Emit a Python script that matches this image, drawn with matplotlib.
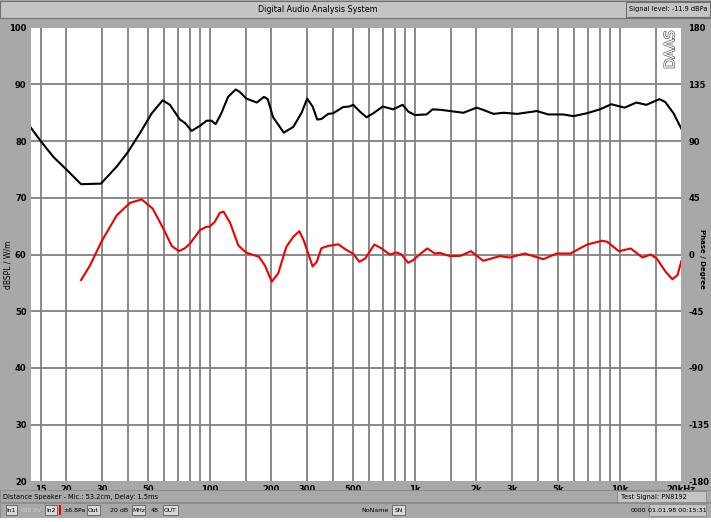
import numpy as np
import matplotlib
matplotlib.use("Agg")
import matplotlib.pyplot as plt
import matplotlib.patheffects as pe
from matplotlib.patches import Rectangle
from matplotlib.ticker import NullLocator

plt.rcParams["axes.unicode_minus"] = False

# magnitude response (dB SPL)
mag_freq = [13.4, 15, 17.3, 20, 23.6, 29.5, 35.2, 40, 45.7, 52.2, 59, 64, 71.6, 75.8,
            81.7, 89.7, 96.7, 102, 107, 114, 123, 134, 140, 151, 170, 184, 192, 204,
            230, 256, 281, 299, 318, 335, 351, 379, 400, 448, 480, 502, 541, 583, 628,
            700, 786, 874, 932, 1003, 1144, 1224, 1355, 1489, 1730, 2007, 2163, 2425,
            2722, 3163, 3946, 4492, 5314, 5946, 6901, 8017, 9116, 10580, 12060, 13500,
            15660, 16700, 18330, 20000]
mag_db = [82.4, 80.0, 77.2, 75.0, 72.4, 72.5, 75.5, 78.1, 81.4, 84.9, 87.2, 86.4, 83.8, 83.2,
          81.8, 82.7, 83.6, 83.6, 83.0, 84.9, 87.8, 89.1, 88.7, 87.5, 86.8, 87.8, 87.4, 84.2,
          81.5, 82.5, 85.0, 87.5, 86.1, 83.8, 83.9, 84.8, 84.9, 86.0, 86.1, 86.4, 85.2, 84.2,
          84.9, 86.1, 85.6, 86.4, 85.2, 84.6, 84.7, 85.6, 85.5, 85.3, 85.0, 85.9, 85.5, 84.8,
          85.0, 84.8, 85.3, 84.7, 84.7, 84.4, 84.9, 85.6, 86.5, 85.9, 86.8, 86.4,
          87.4, 86.9, 84.9, 82.2]

# phase response (degrees)
ph_freq = [23.6, 26.1, 29.8, 35.2, 40.9, 46.6, 52.7, 59.4, 65.3, 70.8,
           75.8, 80.2, 89.7, 96.7, 100, 106, 112, 117, 126, 138,
           151, 174, 186, 201, 216, 237, 256, 274, 288, 318,
           333, 351, 379, 424, 466, 502, 537, 574, 636, 690,
           757, 817, 863, 930, 983, 1063, 1152, 1255, 1328, 1488,
           1668, 1884, 2161, 2604, 2913, 3446, 4241, 4939, 5752, 6940,
           8220, 8702, 9920, 11330, 12920, 14190, 15180, 16790, 18100, 19160, 20000]
ph_deg = [-20.3, -8.6, 10.8, 31.0, 41.0, 43.7, 36.5, 20.7, 6.8, 2.7,
          5.0, 8.6, 19.4, 22.0, 22.0, 26.0, 33.0, 34.0, 25.0, 7.2,
          1.4, -1.8, -8.6, -21.6, -15.0, 6.3, 14.0, 18.5, 11.0, -9.5,
          -5.9, 5.0, 6.8, 8.1, 3.5, 0.6, -5.8, -3.2, 7.9, 4.8,
          0.0, 1.6, 0.0, -6.6, -4.5, 0.3, 4.8, 0.8, 1.3, -1.3,
          -1.1, 2.6, -5.0, -1.3, -2.4, 0.8, -3.7, 0.8, 0.8, 7.9,
          10.9, 10.1, 2.6, 4.8, -2.4, 0.0, -3.2, -13.8, -19.6, -16.4, -5.3]

x_ticks = [15, 20, 30, 50, 100, 200, 300, 500, 1000, 2000, 3000, 5000, 10000, 20000]
x_tick_labels = ["15", "20", "30", "50", "100", "200", "300", "500", "1k", "2k", "3k",
                 "5k", "10k", "20kHz"]
grid_freqs = [15, 20, 30, 40, 50, 60, 70, 80, 90, 100, 150, 200, 300, 400, 500, 600, 700,
              800, 900, 1000, 1500, 2000, 3000, 4000, 5000, 6000, 7000, 8000, 9000, 10000, 15000]
db_ticks = [20, 30, 40, 50, 60, 70, 80, 90, 100]
phase_ticks = [-180, -135, -90, -45, 0, 45, 90, 135, 180]

W, H = 711, 522
BG = "#a8a8a8"
PANEL = "#c4c4c4"
GRID = "#808080"

fig = plt.figure(figsize=(W / 100, H / 100), dpi=100)
fig.patch.set_facecolor(BG)


def fx(px):
    return px / W


def fy(py):
    return 1 - py / H


def box(x0, y0, x1, y1, fc=PANEL, ec="#707070", lw=0.8):
    fig.patches.append(Rectangle((fx(x0), fy(y1)), fx(x1) - fx(x0), fy(y0) - fy(y1),
                                 transform=fig.transFigure, facecolor=fc,
                                 edgecolor=ec, linewidth=lw))


# plot area
L, R, T, B = 30.7, 681.3, 27.7, 481.3
ax = fig.add_axes([fx(L), fy(B), fx(R) - fx(L), fy(T) - fy(B)])
ax.set_facecolor("white")
ax.set_xscale("log")
ax.set_xlim(13.4, 20000)
ax.set_ylim(20, 100)

for g in grid_freqs:
    ax.axvline(g, color=GRID, lw=1.3, zorder=1)
for d in db_ticks[1:-1]:
    ax.axhline(d, color=GRID, lw=1.3, zorder=1)

ax.plot(mag_freq, mag_db, color="black", lw=1.5, zorder=3)

ax.set_xticks(x_ticks)
ax.set_xticklabels(x_tick_labels)
ax.xaxis.set_minor_locator(NullLocator())
ax.set_yticks(db_ticks)
ax.tick_params(length=0, labelsize=6, pad=3)
for lab in ax.get_xticklabels() + ax.get_yticklabels():
    lab.set_fontweight("bold")
for s in ax.spines.values():
    s.set_visible(False)

ax2 = ax.twinx()
ax2.set_ylim(-180, 180)
ax2.set_yticks(phase_ticks)
ax2.plot(ph_freq, ph_deg, color="#ee0000", lw=1.5, zorder=3)
ax2.tick_params(length=0, labelsize=6, pad=5)
for lab in ax2.get_yticklabels():
    lab.set_fontweight("bold")
for s in ax2.spines.values():
    s.set_visible(False)

fig.text(fx(8), fy(265), "dBSPL / W/m", rotation=90, ha="center", va="center", fontsize=5.5)
fig.text(fx(702), fy(259), "Phase / Degree", rotation=-90, ha="center", va="center",
         fontsize=5, fontweight="bold")

ax.text(0.983, 0.994, "DAAS", transform=ax.transAxes, rotation=90, ha="center", va="top",
        fontsize=10, color="white",
        path_effects=[pe.withStroke(linewidth=1.0, foreground="#606060")])

# title bar
box(0, 1, 711, 18, fc=PANEL)
box(626, 2, 710, 17, fc=PANEL)
fig.text(fx(318), fy(9.5), "Digital Audio Analysis System", ha="center", va="center", fontsize=5.8)
fig.text(fx(668), fy(9.5), "Signal level: -11.9 dBPa", ha="center", va="center", fontsize=4.8)

# status bars
box(0, 490, 711, 502, fc=BG, ec="#888888", lw=0.6)
box(617, 491, 706, 502, fc=PANEL, ec="#888888", lw=0.6)
fig.text(fx(3), fy(496.5), "Distance Speaker - Mic.: 53.2cm, Delay: 1.5ms", va="center", fontsize=4.8)
fig.text(fx(621), fy(496.5), "Test Signal: PN8192", va="center", fontsize=4.8)

box(0, 503, 711, 518, fc=BG, ec="#888888", lw=0.6)
small_boxes = [(6, 17, "In1"), (45, 57, "In2"), (87, 100, "Out"), (132, 145, "MHz"),
               (163, 178, "OUT"), (392, 405, "SN")]
for x0, x1, t in small_boxes:
    box(x0, 505, x1, 515, fc="#d8d8d8", ec="#606060", lw=0.6)
    fig.text(fx((x0 + x1) / 2), fy(510), t, ha="center", va="center", fontsize=4.3)
fig.text(fx(31), fy(510), "030.0V", ha="center", va="center", fontsize=4.3, color="#d0d0d0")
box(59, 505, 60.5, 515, fc="#ee0000", ec="none", lw=0)
fig.text(fx(74), fy(510), "\u00b16.8Pa", ha="center", va="center", fontsize=4.5)
fig.text(fx(119), fy(510), "20 dB", ha="center", va="center", fontsize=4.5)
fig.text(fx(155), fy(510), "48", ha="center", va="center", fontsize=4.5)
fig.text(fx(389), fy(510), "NoName", ha="right", va="center", fontsize=4.5)
box(649, 504, 706, 516, fc=PANEL, ec="#888888", lw=0.6)
fig.text(fx(646), fy(510), "0000", ha="right", va="center", fontsize=4.5)
fig.text(fx(677.5), fy(510), "01.01.98 00:15:31", ha="center", va="center", fontsize=4.6)

# white strip at the very bottom
box(0, 518, 711, 522, fc="white", ec="none", lw=0)

fig.savefig("out.png", dpi=100, facecolor=fig.get_facecolor())
